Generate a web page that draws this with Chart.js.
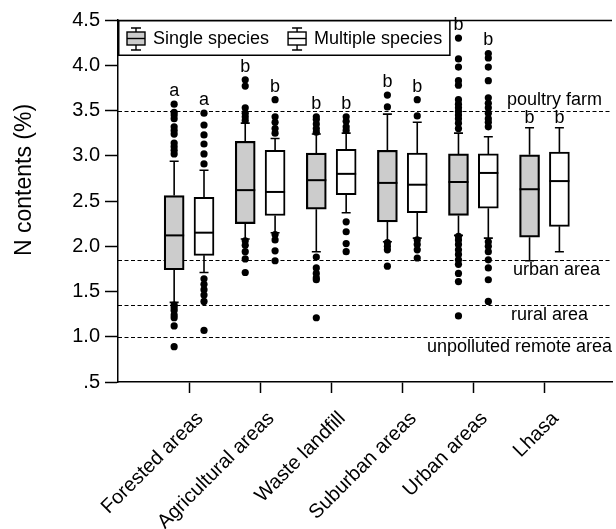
<!DOCTYPE html>
<html>
<head>
<meta charset="utf-8">
<script src="https://cdn.jsdelivr.net/npm/chart.js@4.4.1/dist/chart.umd.min.js"></script>
<style>
  html, body { margin: 0; padding: 0; background: #fff; }
  #wrap { width: 616px; height: 529px; }
</style>
</head>
<body>
<div id="wrap"><canvas id="myChart"></canvas></div>
<script>
var categories = ["Forested areas", "Agricultural areas", "Waste landfill", "Suburban areas", "Urban areas", "Lhasa"];

// Single species (grey boxes)
var singleMin    = [1.38, 2.08, 1.94, 2.05, 2.12, 1.84];
var singleQ1     = [1.74, 2.25, 2.41, 2.27, 2.34, 2.10];
var singleMedian = [2.12, 2.62, 2.73, 2.70, 2.71, 2.63];
var singleQ3     = [2.56, 3.16, 3.03, 3.06, 3.02, 3.01];
var singleMax    = [2.94, 3.36, 3.24, 3.46, 3.25, 3.31];
var singleOutliers = [
  [3.57, 3.48, 3.45, 3.41, 3.32, 3.28, 3.24, 3.14, 3.10, 3.06, 3.02, 1.35, 1.32, 1.29, 1.24, 1.21, 1.12, 0.89],
  [3.84, 3.77, 3.53, 3.47, 3.43, 3.39, 2.06, 2.01, 1.94, 1.86, 1.71],
  [3.43, 3.40, 3.35, 3.30, 3.26, 1.88, 1.76, 1.70, 1.65, 1.63, 1.21],
  [3.67, 3.54, 2.04, 2.00, 1.96, 1.78],
  [4.30, 4.07, 3.98, 3.83, 3.78, 3.62, 3.57, 3.53, 3.49, 3.45, 3.41, 3.36, 3.30,
   2.11, 2.07, 2.02, 1.96, 1.91, 1.85, 1.80, 1.70, 1.61, 1.23],
  []
];
var singleLetters = ["a", "b", "b", "b", "b", "b"];

// Multiple species (white boxes)
var multiMin    = [1.71, 2.15, 2.37, 2.09, 2.09, 1.94];
var multiQ1     = [1.90, 2.34, 2.57, 2.37, 2.42, 2.22];
var multiMedian = [2.15, 2.60, 2.80, 2.68, 2.81, 2.72];
var multiQ3     = [2.54, 3.06, 3.07, 3.03, 3.02, 3.04];
var multiMax    = [2.84, 3.19, 3.25, 3.37, 3.21, 3.31];
var multiOutliers = [
  [3.47, 3.34, 3.23, 3.13, 3.02, 2.91, 1.64, 1.58, 1.52, 1.46, 1.39, 1.07],
  [3.62, 3.43, 3.37, 3.30, 3.25, 2.13, 2.07, 1.95, 1.84],
  [3.43, 3.38, 3.32, 3.28, 2.27, 2.16, 2.03, 1.94],
  [3.62, 3.44, 2.07, 2.02, 1.96, 1.87],
  [4.13, 4.08, 3.98, 3.83, 3.64, 3.58, 3.53, 3.47, 3.41, 3.37, 3.32,
   2.05, 2.00, 1.94, 1.85, 1.76, 1.63, 1.39],
  []
];
var multiLetters = ["a", "b", "b", "b", "b", "b"];

// reference levels
var refValues = [3.5, 1.85, 1.35, 1.0];
var refLabels = ["poultry farm", "urban area", "rural area", "unpolluted remote area"];

var yTicks = [0.5, 1.0, 1.5, 2.0, 2.5, 3.0, 3.5, 4.0, 4.5];

var FONT = "'Liberation Sans', Arial, Helvetica, sans-serif";
var OFF = 0.21;       // half distance between the two boxes of a group
var GREY = '#cccccc';

function boxData(q1, q3, shift) {
  return categories.map(function (c, i) { return { x: i + 1 + shift, y: [q1[i], q3[i]] }; });
}
function outlierData(list, shift) {
  var pts = [];
  list.forEach(function (vals, i) {
    vals.forEach(function (v) { pts.push({ x: i + 1 + shift, y: v }); });
  });
  return pts;
}

var groups = [
  { min: singleMin, med: singleMedian, max: singleMax, out: singleOutliers, letters: singleLetters, shift: -OFF, meta: 0 },
  { min: multiMin, med: multiMedian, max: multiMax, out: multiOutliers, letters: multiLetters, shift: OFF, meta: 1 }
];

var boxExtras = {
  id: 'boxExtras',
  beforeDatasetsDraw: function (chart) {
    var ctx = chart.ctx, xs = chart.scales.x, ys = chart.scales.y, a = chart.chartArea;
    ctx.save();
    // dashed reference lines
    ctx.strokeStyle = '#000';
    ctx.lineWidth = 1.2;
    ctx.setLineDash([4, 2.5]);
    refValues.forEach(function (v) {
      var py = Math.round(ys.getPixelForValue(v)) + 0.5;
      ctx.beginPath(); ctx.moveTo(a.left, py); ctx.lineTo(a.right, py); ctx.stroke();
    });
    ctx.setLineDash([]);
    // whiskers + caps
    ctx.lineWidth = 1.6;
    groups.forEach(function (g) {
      var q1 = g.meta === 0 ? singleQ1 : multiQ1, q3 = g.meta === 0 ? singleQ3 : multiQ3;
      categories.forEach(function (c, i) {
        var px = xs.getPixelForValue(i + 1 + g.shift);
        var pMin = ys.getPixelForValue(g.min[i]), pMax = ys.getPixelForValue(g.max[i]);
        ctx.beginPath();
        ctx.moveTo(px, ys.getPixelForValue(q3[i])); ctx.lineTo(px, pMax);
        ctx.moveTo(px, ys.getPixelForValue(q1[i])); ctx.lineTo(px, pMin);
        ctx.moveTo(px - 4.5, pMax); ctx.lineTo(px + 4.5, pMax);
        ctx.moveTo(px - 4.5, pMin); ctx.lineTo(px + 4.5, pMin);
        ctx.stroke();
      });
    });
    ctx.restore();
  },
  afterDatasetsDraw: function (chart) {
    var ctx = chart.ctx, xs = chart.scales.x, ys = chart.scales.y, a = chart.chartArea;
    ctx.save();
    // medians
    ctx.strokeStyle = '#000';
    ctx.lineWidth = 2;
    groups.forEach(function (g) {
      var meta = chart.getDatasetMeta(g.meta);
      categories.forEach(function (c, i) {
        var bar = meta.data[i];
        var py = ys.getPixelForValue(g.med[i]);
        ctx.beginPath(); ctx.moveTo(bar.x - bar.width / 2, py); ctx.lineTo(bar.x + bar.width / 2, py); ctx.stroke();
      });
    });
    // significance letters
    ctx.fillStyle = '#000';
    ctx.font = '18px ' + FONT;
    ctx.textAlign = 'center';
    ctx.textBaseline = 'alphabetic';
    groups.forEach(function (g) {
      categories.forEach(function (c, i) {
        var top = Math.max.apply(null, [g.max[i]].concat(g.out[i]));
        var pad = top > g.max[i] ? 8 : 5;
        ctx.fillText(g.letters[i], xs.getPixelForValue(i + 1 + g.shift), ys.getPixelForValue(top) - pad);
      });
    });
    // reference labels
    ctx.font = '18px ' + FONT;
    ctx.textAlign = 'right';
    var rightInset = [10, 12, 24, 0];
    refValues.forEach(function (v, k) {
      var py = ys.getPixelForValue(v);
      if (k === 0) ctx.fillText(refLabels[k], a.right - rightInset[k], py - 6);
      else ctx.fillText(refLabels[k], a.right - rightInset[k], py + 15);
    });
    ctx.restore();
  },
  afterDraw: function (chart) {
    var ctx = chart.ctx, a = chart.chartArea;
    ctx.save();
    ctx.strokeStyle = '#000';
    // top frame
    ctx.lineWidth = 1.5;
    ctx.beginPath(); ctx.moveTo(a.left, a.top + 0.5); ctx.lineTo(a.right, a.top + 0.5); ctx.stroke();
    // legend
    ctx.font = '18px ' + FONT;
    var names = ['Single species', 'Multiple species'];
    var fills = [GREY, '#ffffff'];
    var cy = a.top + 18;
    var x = a.left + 9;
    var items = [];
    names.forEach(function (n, k) {
      items.push({ icon: x, text: x + 26, name: n, fill: fills[k] });
      x = x + 26 + ctx.measureText(n).width + 19;
    });
    var right = x - 19 + 7;
    ctx.fillStyle = '#fff';
    ctx.fillRect(a.left, a.top, right - a.left, 35);
    ctx.lineWidth = 1.5;
    ctx.strokeRect(a.left + 0.75, a.top + 0.75, right - a.left, 34.5);
    items.forEach(function (it) {
      var bx = it.icon, bw = 18;
      ctx.lineWidth = 1.4;
      ctx.beginPath();
      ctx.moveTo(bx + bw / 2, cy - 10); ctx.lineTo(bx + bw / 2, cy - 6);
      ctx.moveTo(bx + bw / 2, cy + 7); ctx.lineTo(bx + bw / 2, cy + 12);
      ctx.moveTo(bx + 4, cy - 10); ctx.lineTo(bx + bw - 4, cy - 10);
      ctx.moveTo(bx + 4, cy + 12); ctx.lineTo(bx + bw - 4, cy + 12);
      ctx.stroke();
      ctx.fillStyle = it.fill;
      ctx.fillRect(bx, cy - 6, bw, 13);
      ctx.strokeRect(bx, cy - 6, bw, 13);
      ctx.beginPath(); ctx.moveTo(bx, cy + 0.5); ctx.lineTo(bx + bw, cy + 0.5); ctx.stroke();
      ctx.fillStyle = '#000';
      ctx.textAlign = 'left';
      ctx.textBaseline = 'middle';
      ctx.fillText(it.name, it.text, cy + 1);
    });
    // y axis title
    ctx.save();
    ctx.translate(25, (a.top + a.bottom) / 2 - 21);
    ctx.rotate(-Math.PI / 2);
    ctx.font = '23px ' + FONT;
    ctx.textAlign = 'center';
    ctx.textBaseline = 'middle';
    ctx.fillText('N contents (%)', 0, 0);
    ctx.restore();
    ctx.restore();
  }
};

var ctx = document.getElementById('myChart').getContext('2d');
var chart = new Chart(ctx, {
  type: 'bar',
  data: {
    datasets: [{
      label: 'Single species',
      data: boxData(singleQ1, singleQ3, -OFF),
      backgroundColor: GREY,
      borderColor: '#000',
      borderWidth: 2.2,
      borderSkipped: false,
      barThickness: 20,
      grouped: false,
      order: 2
    }, {
      label: 'Multiple species',
      data: boxData(multiQ1, multiQ3, OFF),
      backgroundColor: '#ffffff',
      borderColor: '#000',
      borderWidth: 2,
      borderSkipped: false,
      barThickness: 20,
      grouped: false,
      order: 2
    }, {
      type: 'scatter',
      label: 'Single outliers',
      data: outlierData(singleOutliers, -OFF),
      backgroundColor: '#000',
      borderWidth: 0,
      pointRadius: 3.6,
      order: 1
    }, {
      type: 'scatter',
      label: 'Multiple outliers',
      data: outlierData(multiOutliers, OFF),
      backgroundColor: '#000',
      borderWidth: 0,
      pointRadius: 3.6,
      order: 1
    }]
  },
  options: {
    responsive: true,
    maintainAspectRatio: false,
    animation: false,
    events: [],
    layout: { padding: { top: 20, right: 0, left: 0, bottom: 0 } },
    plugins: {
      legend: { display: false },
      tooltip: { enabled: false }
    },
    scales: {
      x: {
        type: 'linear',
        min: 0,
        max: 6.95,
        offset: false,
        grid: { offset: false, drawOnChartArea: false, color: '#000', tickLength: 11, tickWidth: 1.5 },
        border: { color: '#000', width: 1.5 },
        afterBuildTicks: function (axis) {
          axis.ticks = axis.ticks.filter(function (t) { return t.value >= 1 && t.value <= categories.length; });
        },
        afterFit: function (scale) { scale.height = 147; },
        ticks: {
          stepSize: 1,
          autoSkip: false,
          maxRotation: 45,
          minRotation: 45,
          color: '#000',
          padding: 14,
          labelOffset: 11,
          font: { size: 20, family: FONT },
          callback: function (v) { return categories[v - 1] || ''; }
        }
      },
      y: {
        min: 0.5,
        max: 4.5,
        afterBuildTicks: function (axis) {
          axis.ticks = yTicks.map(function (v) { return { value: v }; });
        },
        grid: { drawOnChartArea: false, color: '#000', tickLength: 13, tickWidth: 1.5 },
        border: { color: '#000', width: 1.5 },
        afterFit: function (scale) { scale.width = 118; },
        ticks: {
          color: '#000',
          padding: 5,
          font: { size: 20, family: FONT },
          callback: function (v) { return v === 0.5 ? '.5' : Number(v).toFixed(1); }
        }
      }
    }
  },
  plugins: [boxExtras]
});
</script>
</body>
</html>
